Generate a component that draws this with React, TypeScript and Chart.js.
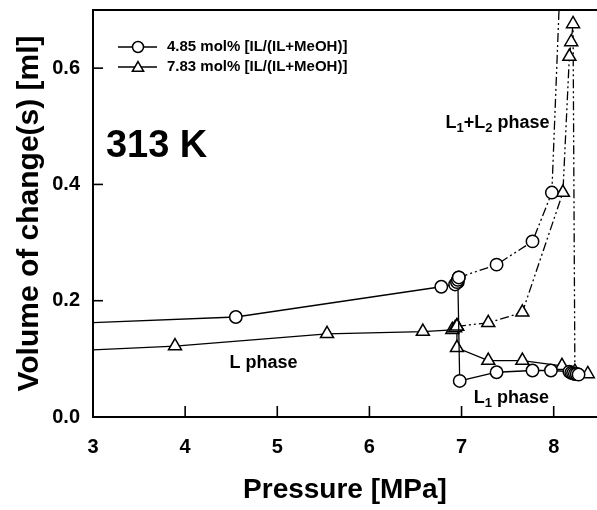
import React, { useEffect, useRef } from 'react';
import { Chart, registerables } from 'chart.js';

Chart.register(...registerables);

// ---- 4.85 mol% [IL/(IL+MeOH)] (circles) ----
const circL_P = [2.5, 4.55, 6.78, 6.93, 6.95, 6.96, 6.97];
const circL_V = [0.159, 0.172, 0.224, 0.228, 0.232, 0.236, 0.24];
const circL1L2_P = [6.97, 7.38, 7.77, 7.98, 8.07];
const circL1L2_V = [0.24, 0.262, 0.302, 0.386, 0.75];
const circL1_P = [6.96, 6.98, 7.38, 7.77, 7.97, 8.17, 8.19, 8.21, 8.23, 8.25, 8.27];
const circL1_V = [0.232, 0.062, 0.077, 0.08, 0.08, 0.078, 0.076, 0.075, 0.074, 0.074, 0.073];

// ---- 7.83 mol% [IL/(IL+MeOH)] (triangles) ----
const triL_P = [2.5, 3.89, 5.54, 6.58, 6.9, 6.93, 6.95];
const triL_V = [0.112, 0.122, 0.143, 0.147, 0.15, 0.153, 0.156];
const triL1L2_P = [6.95, 7.29, 7.66, 8.1, 8.17, 8.19, 8.21, 8.23];
const triL1L2_V = [0.156, 0.162, 0.18, 0.386, 0.62, 0.645, 0.676, 0.078];
const triL1_P = [6.95, 6.95, 7.29, 7.66, 8.09, 8.37];
const triL1_V = [0.156, 0.119, 0.097, 0.097, 0.088, 0.074];

// ---- axes ----
const xTicks = [3, 4, 5, 6, 7, 8];
const yTicks = [0, 0.2, 0.4, 0.6];
const xMin = 3, xMax = 8.47, yMin = 0, yMax = 0.7;

const legendLabels = ['4.85 mol% [IL/(IL+MeOH)]', '7.83 mol% [IL/(IL+MeOH)]'];

const FONT = "'Liberation Sans', Arial, Helvetica, sans-serif";
const DASH_DOT_DOT = [9, 3, 2, 3, 2, 3];

const pts = (xs: number[], ys: number[]) => xs.map((x, i) => ({ x, y: ys[i] }));

function ds(data: any[], style: string, dash: number[]) {
  return {
    data,
    showLine: true,
    borderColor: '#000',
    borderWidth: 1.3,
    borderDash: dash,
    pointStyle: style,
    pointRadius: style === 'triangle' ? 7.5 : 6.2,
    pointBorderWidth: 1.5,
    pointBorderColor: '#000',
    pointBackgroundColor: '#fff',
    fill: false,
    tension: 0,
  };
}

function drawTri(ctx: CanvasRenderingContext2D, x: number, y: number, r: number) {
  ctx.beginPath();
  let a = 0;
  ctx.moveTo(x + Math.sin(a) * r, y - Math.cos(a) * r);
  a += (2 * Math.PI) / 3;
  ctx.lineTo(x + Math.sin(a) * r, y - Math.cos(a) * r);
  a += (2 * Math.PI) / 3;
  ctx.lineTo(x + Math.sin(a) * r, y - Math.cos(a) * r);
  ctx.closePath();
  ctx.fill();
  ctx.stroke();
}

function drawRich(ctx: CanvasRenderingContext2D, parts: [string, boolean][], cx: number, cy: number, size: number) {
  const big = `bold ${size}px ${FONT}`;
  const small = `bold ${Math.round(size * 0.7)}px ${FONT}`;
  let total = 0;
  parts.forEach(([t, sub]) => {
    ctx.font = sub ? small : big;
    total += ctx.measureText(t).width;
  });
  let x = cx - total / 2;
  ctx.textAlign = 'left';
  ctx.textBaseline = 'middle';
  parts.forEach(([t, sub]) => {
    ctx.font = sub ? small : big;
    ctx.fillText(t, x, sub ? cy + size * 0.3 : cy);
    x += ctx.measureText(t).width;
  });
}

const overlay = {
  id: 'overlay',
  afterDraw(chart: any) {
    const { ctx, chartArea: a, scales } = chart;
    const x = scales.x, y = scales.y;
    ctx.save();
    ctx.strokeStyle = '#000';
    ctx.fillStyle = '#000';
    ctx.lineWidth = 2;
    ctx.beginPath();
    ctx.moveTo(a.left - 1, a.top);
    ctx.lineTo(a.right, a.top);
    ctx.stroke();
    ctx.lineWidth = 1.6;
    xTicks.forEach((v) => {
      const px = x.getPixelForValue(v);
      ctx.beginPath();
      ctx.moveTo(px, a.bottom);
      ctx.lineTo(px, a.bottom - 11);
      ctx.stroke();
    });
    yTicks.forEach((v) => {
      const py = y.getPixelForValue(v);
      ctx.beginPath();
      ctx.moveTo(a.left, py);
      ctx.lineTo(a.left + 10, py);
      ctx.stroke();
    });
    ctx.textAlign = 'center';
    ctx.textBaseline = 'middle';
    ctx.font = `bold 38px ${FONT}`;
    ctx.fillText('313 K', x.getPixelForValue(3.69), y.getPixelForValue(0.465));
    drawRich(ctx, [['L', false], ['1', true], ['+L', false], ['2', true], [' phase', false]],
      x.getPixelForValue(7.39), y.getPixelForValue(0.506), 18);
    drawRich(ctx, [['L phase', false]], x.getPixelForValue(4.85), y.getPixelForValue(0.093), 18);
    drawRich(ctx, [['L', false], ['1', true], [' phase', false]],
      x.getPixelForValue(7.54), y.getPixelForValue(0.033), 18);
    const rows = [a.top + 37, a.top + 57];
    rows.forEach((ry, i) => {
      ctx.lineWidth = 1.3;
      ctx.setLineDash([]);
      ctx.beginPath();
      ctx.moveTo(a.left + 25, ry);
      ctx.lineTo(a.left + 64, ry);
      ctx.stroke();
      ctx.fillStyle = '#fff';
      ctx.lineWidth = 1.5;
      if (i === 0) {
        ctx.beginPath();
        ctx.arc(a.left + 45, ry, 5.5, 0, Math.PI * 2);
        ctx.fill();
        ctx.stroke();
      } else {
        drawTri(ctx, a.left + 45, ry + 1, 6.5);
      }
      ctx.fillStyle = '#000';
      ctx.font = `bold 15px ${FONT}`;
      ctx.textAlign = 'left';
      ctx.textBaseline = 'middle';
      ctx.fillText(legendLabels[i], a.left + 74, ry);
    });
    ctx.restore();
  },
};

const zeroPad = (s: any) => {
  s.paddingTop = 0;
  s.paddingBottom = 0;
  s.paddingLeft = 0;
  s.paddingRight = 0;
};

export default function App() {
  const ref = useRef<HTMLCanvasElement | null>(null);
  useEffect(() => {
    document.body.style.margin = '0';
    const canvas = ref.current;
    if (!canvas) return;
    const chart = new Chart(canvas, {
      type: 'scatter',
      data: {
        datasets: [
          ds(pts(circL_P, circL_V), 'circle', []),
          ds(pts(circL1L2_P, circL1L2_V), 'circle', DASH_DOT_DOT),
          ds(pts(circL1_P, circL1_V), 'circle', []),
          ds(pts(triL_P, triL_V), 'triangle', []),
          ds(pts(triL1L2_P, triL1L2_V), 'triangle', DASH_DOT_DOT),
          ds(pts(triL1_P, triL1_V), 'triangle', []),
        ] as any,
      },
      options: {
        responsive: false,
        animation: false,
        devicePixelRatio: 1,
        layout: { autoPadding: false, padding: { top: 10, left: 0, right: 0, bottom: 0 } },
        plugins: { legend: { display: false }, tooltip: { enabled: false } },
        scales: {
          x: {
            type: 'linear',
            min: xMin,
            max: xMax,
            afterFit: (s: any) => { s.height = 93; zeroPad(s); },
            afterBuildTicks: (s: any) => { s.ticks = xTicks.map((v) => ({ value: v })); },
            grid: { display: false, drawTicks: false },
            border: { display: true, color: '#000', width: 2 },
            ticks: {
              padding: 18,
              color: '#000',
              font: { family: FONT, size: 20, weight: 'bold' },
              callback: (v: any) => String(v),
            },
            title: {
              display: true,
              text: 'Pressure [MPa]',
              color: '#000',
              font: { family: FONT, size: 28, weight: 'bold' },
              padding: { top: 0, bottom: 3 },
            },
          },
          y: {
            type: 'linear',
            min: yMin,
            max: yMax,
            afterFit: (s: any) => { s.width = 93; zeroPad(s); },
            afterBuildTicks: (s: any) => { s.ticks = yTicks.map((v) => ({ value: v })); },
            grid: { display: false, drawTicks: false },
            border: { display: true, color: '#000', width: 2 },
            ticks: {
              padding: 13,
              color: '#000',
              font: { family: FONT, size: 20, weight: 'bold' },
              callback: (v: any) => Number(v).toFixed(1),
            },
            title: {
              display: true,
              text: 'Volume of change(s) [ml]',
              color: '#000',
              font: { family: FONT, size: 30, weight: 'bold' },
              padding: { top: 12, bottom: 0 },
            },
          },
        },
      } as any,
      plugins: [overlay],
    });
    return () => chart.destroy();
  }, []);
  return (
    <div style={{ width: 597, height: 510, background: '#fff' }}>
      <canvas ref={ref} width={597} height={510} style={{ display: 'block' }} />
    </div>
  );
}
